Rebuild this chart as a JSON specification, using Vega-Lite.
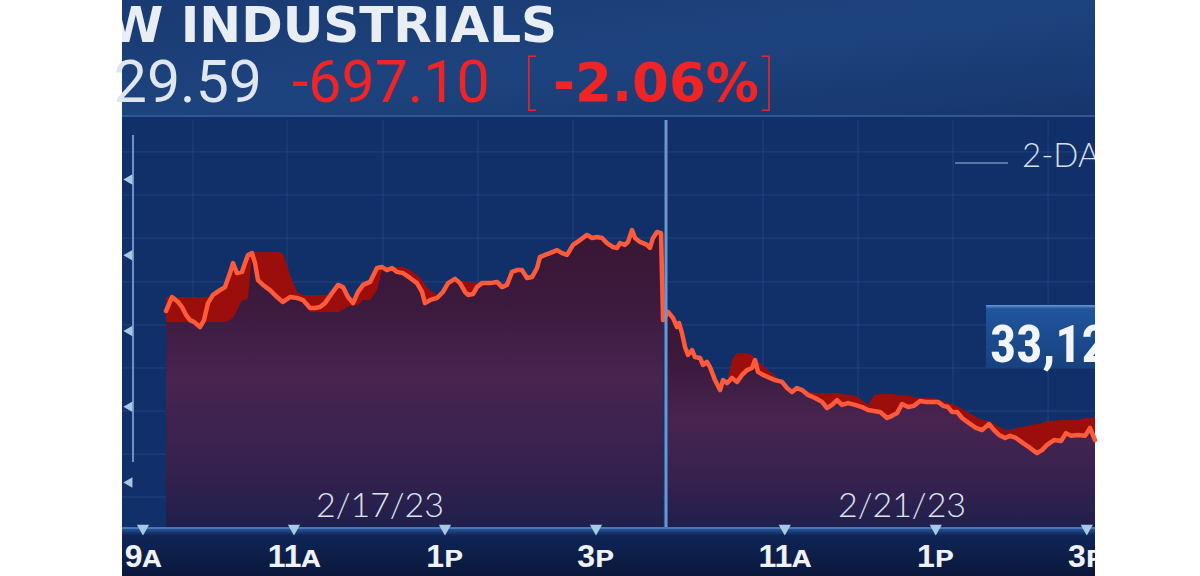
{
"$schema": "https://vega.github.io/schema/vega-lite/v6.json",
"width": 973, "height": 576,
"autosize": {"type": "none"},
"padding": {"left": 122, "right": 105, "top": 0, "bottom": 0},
"background": "#ffffff",
"view": {"fill": "#11306a", "stroke": null},
"config": {"axis": {"disable": true}},
"datasets": {
"one": [{}],
"series": [
{"day":"2/17/23","t":9.305,"v":33566,"hi":33612,"lo":33530},
{"day":"2/17/23","t":9.384,"v":33612,"hi":33612,"lo":33530},
{"day":"2/17/23","t":9.464,"v":33596,"hi":33612,"lo":33530},
{"day":"2/17/23","t":9.517,"v":33579,"hi":33612,"lo":33530},
{"day":"2/17/23","t":9.570,"v":33553,"hi":33612,"lo":33530},
{"day":"2/17/23","t":9.623,"v":33536,"hi":33612,"lo":33530},
{"day":"2/17/23","t":9.676,"v":33530,"hi":33612,"lo":33530},
{"day":"2/17/23","t":9.755,"v":33513,"hi":33612,"lo":33513},
{"day":"2/17/23","t":9.808,"v":33536,"hi":33612,"lo":33530},
{"day":"2/17/23","t":9.861,"v":33592,"hi":33612,"lo":33530},
{"day":"2/17/23","t":9.927,"v":33619,"hi":33619,"lo":33530},
{"day":"2/17/23","t":10.020,"v":33635,"hi":33635,"lo":33530},
{"day":"2/17/23","t":10.086,"v":33645,"hi":33645,"lo":33530},
{"day":"2/17/23","t":10.152,"v":33691,"hi":33691,"lo":33536},
{"day":"2/17/23","t":10.192,"v":33724,"hi":33724,"lo":33543},
{"day":"2/17/23","t":10.245,"v":33691,"hi":33691,"lo":33569},
{"day":"2/17/23","t":10.311,"v":33695,"hi":33695,"lo":33602},
{"day":"2/17/23","t":10.351,"v":33724,"hi":33724,"lo":33602},
{"day":"2/17/23","t":10.391,"v":33751,"hi":33751,"lo":33609},
{"day":"2/17/23","t":10.444,"v":33757,"hi":33761,"lo":33757},
{"day":"2/17/23","t":10.484,"v":33724,"hi":33761,"lo":33724},
{"day":"2/17/23","t":10.523,"v":33668,"hi":33761,"lo":33668},
{"day":"2/17/23","t":10.590,"v":33652,"hi":33761,"lo":33652},
{"day":"2/17/23","t":10.682,"v":33635,"hi":33761,"lo":33635},
{"day":"2/17/23","t":10.775,"v":33612,"hi":33761,"lo":33612},
{"day":"2/17/23","t":10.854,"v":33596,"hi":33757,"lo":33596},
{"day":"2/17/23","t":10.947,"v":33612,"hi":33685,"lo":33612},
{"day":"2/17/23","t":11.040,"v":33609,"hi":33629,"lo":33609},
{"day":"2/17/23","t":11.119,"v":33602,"hi":33619,"lo":33602},
{"day":"2/17/23","t":11.212,"v":33576,"hi":33619,"lo":33563},
{"day":"2/17/23","t":11.278,"v":33576,"hi":33619,"lo":33563},
{"day":"2/17/23","t":11.345,"v":33579,"hi":33619,"lo":33563},
{"day":"2/17/23","t":11.411,"v":33592,"hi":33619,"lo":33563},
{"day":"2/17/23","t":11.503,"v":33625,"hi":33625,"lo":33563},
{"day":"2/17/23","t":11.583,"v":33652,"hi":33652,"lo":33563},
{"day":"2/17/23","t":11.649,"v":33645,"hi":33645,"lo":33569},
{"day":"2/17/23","t":11.715,"v":33612,"hi":33612,"lo":33583},
{"day":"2/17/23","t":11.782,"v":33592,"hi":33592,"lo":33583},
{"day":"2/17/23","t":11.848,"v":33629,"hi":33629,"lo":33586},
{"day":"2/17/23","t":11.914,"v":33652,"hi":33652,"lo":33602},
{"day":"2/17/23","t":12.007,"v":33662,"hi":33662,"lo":33602},
{"day":"2/17/23","t":12.099,"v":33708,"hi":33708,"lo":33635},
{"day":"2/17/23","t":12.166,"v":33711,"hi":33711,"lo":33701},
{"day":"2/17/23","t":12.232,"v":33701,"hi":33711,"lo":33701},
{"day":"2/17/23","t":12.298,"v":33708,"hi":33711,"lo":33708},
{"day":"2/17/23","t":12.364,"v":33695,"hi":33711,"lo":33695},
{"day":"2/17/23","t":12.444,"v":33691,"hi":33711,"lo":33691},
{"day":"2/17/23","t":12.537,"v":33675,"hi":33701,"lo":33675},
{"day":"2/17/23","t":12.629,"v":33658,"hi":33685,"lo":33658},
{"day":"2/17/23","t":12.696,"v":33629,"hi":33668,"lo":33629},
{"day":"2/17/23","t":12.735,"v":33592,"hi":33652,"lo":33592},
{"day":"2/17/23","t":12.801,"v":33602,"hi":33635,"lo":33602},
{"day":"2/17/23","t":12.894,"v":33609,"hi":33619,"lo":33609},
{"day":"2/17/23","t":12.974,"v":33629,"hi":33629,"lo":33629},
{"day":"2/17/23","t":13.040,"v":33658,"hi":33658,"lo":33658},
{"day":"2/17/23","t":13.133,"v":33672,"hi":33672,"lo":33672},
{"day":"2/17/23","t":13.199,"v":33658,"hi":33665,"lo":33658},
{"day":"2/17/23","t":13.265,"v":33629,"hi":33665,"lo":33629},
{"day":"2/17/23","t":13.305,"v":33619,"hi":33662,"lo":33619},
{"day":"2/17/23","t":13.371,"v":33622,"hi":33658,"lo":33622},
{"day":"2/17/23","t":13.424,"v":33645,"hi":33658,"lo":33645},
{"day":"2/17/23","t":13.490,"v":33658,"hi":33658,"lo":33658},
{"day":"2/17/23","t":13.596,"v":33658,"hi":33658,"lo":33658},
{"day":"2/17/23","t":13.689,"v":33662,"hi":33662,"lo":33662},
{"day":"2/17/23","t":13.755,"v":33645,"hi":33645,"lo":33645},
{"day":"2/17/23","t":13.821,"v":33652,"hi":33652,"lo":33652},
{"day":"2/17/23","t":13.888,"v":33695,"hi":33695,"lo":33695},
{"day":"2/17/23","t":13.954,"v":33701,"hi":33701,"lo":33701},
{"day":"2/17/23","t":14.020,"v":33701,"hi":33701,"lo":33701},
{"day":"2/17/23","t":14.086,"v":33675,"hi":33675,"lo":33675},
{"day":"2/17/23","t":14.153,"v":33678,"hi":33678,"lo":33678},
{"day":"2/17/23","t":14.219,"v":33708,"hi":33708,"lo":33708},
{"day":"2/17/23","t":14.258,"v":33744,"hi":33744,"lo":33744},
{"day":"2/17/23","t":14.325,"v":33751,"hi":33751,"lo":33751},
{"day":"2/17/23","t":14.391,"v":33757,"hi":33757,"lo":33757},
{"day":"2/17/23","t":14.484,"v":33767,"hi":33767,"lo":33767},
{"day":"2/17/23","t":14.550,"v":33757,"hi":33757,"lo":33757},
{"day":"2/17/23","t":14.616,"v":33751,"hi":33751,"lo":33751},
{"day":"2/17/23","t":14.696,"v":33784,"hi":33784,"lo":33784},
{"day":"2/17/23","t":14.788,"v":33800,"hi":33800,"lo":33800},
{"day":"2/17/23","t":14.881,"v":33817,"hi":33817,"lo":33817},
{"day":"2/17/23","t":14.947,"v":33807,"hi":33807,"lo":33807},
{"day":"2/17/23","t":15.013,"v":33810,"hi":33810,"lo":33810},
{"day":"2/17/23","t":15.080,"v":33807,"hi":33807,"lo":33807},
{"day":"2/17/23","t":15.146,"v":33790,"hi":33790,"lo":33790},
{"day":"2/17/23","t":15.225,"v":33777,"hi":33777,"lo":33777},
{"day":"2/17/23","t":15.278,"v":33774,"hi":33774,"lo":33774},
{"day":"2/17/23","t":15.318,"v":33790,"hi":33790,"lo":33790},
{"day":"2/17/23","t":15.384,"v":33784,"hi":33784,"lo":33784},
{"day":"2/17/23","t":15.424,"v":33794,"hi":33794,"lo":33794},
{"day":"2/17/23","t":15.477,"v":33833,"hi":33833,"lo":33833},
{"day":"2/17/23","t":15.517,"v":33807,"hi":33807,"lo":33807},
{"day":"2/17/23","t":15.583,"v":33794,"hi":33794,"lo":33794},
{"day":"2/17/23","t":15.676,"v":33784,"hi":33784,"lo":33784},
{"day":"2/17/23","t":15.715,"v":33774,"hi":33774,"lo":33774},
{"day":"2/17/23","t":15.755,"v":33807,"hi":33807,"lo":33807},
{"day":"2/17/23","t":15.808,"v":33827,"hi":33827,"lo":33827},
{"day":"2/17/23","t":15.861,"v":33823,"hi":33823,"lo":33823},
{"day":"2/17/23","t":15.888,"v":33536,"hi":33536,"lo":33536},
{"day":"2/21/23","t":15.954,"v":33563,"hi":33563,"lo":33563},
{"day":"2/21/23","t":16.020,"v":33543,"hi":33543,"lo":33543},
{"day":"2/21/23","t":16.073,"v":33513,"hi":33513,"lo":33513},
{"day":"2/21/23","t":16.100,"v":33526,"hi":33526,"lo":33526},
{"day":"2/21/23","t":16.139,"v":33493,"hi":33493,"lo":33493},
{"day":"2/21/23","t":16.179,"v":33447,"hi":33447,"lo":33447},
{"day":"2/21/23","t":16.219,"v":33421,"hi":33421,"lo":33421},
{"day":"2/21/23","t":16.272,"v":33437,"hi":33437,"lo":33437},
{"day":"2/21/23","t":16.311,"v":33414,"hi":33414,"lo":33414},
{"day":"2/21/23","t":16.378,"v":33411,"hi":33411,"lo":33411},
{"day":"2/21/23","t":16.417,"v":33388,"hi":33388,"lo":33388},
{"day":"2/21/23","t":16.470,"v":33398,"hi":33398,"lo":33398},
{"day":"2/21/23","t":16.510,"v":33381,"hi":33381,"lo":33381},
{"day":"2/21/23","t":16.576,"v":33338,"hi":33338,"lo":33338},
{"day":"2/21/23","t":16.643,"v":33305,"hi":33305,"lo":33305},
{"day":"2/21/23","t":16.682,"v":33338,"hi":33338,"lo":33338},
{"day":"2/21/23","t":16.735,"v":33328,"hi":33328,"lo":33328},
{"day":"2/21/23","t":16.801,"v":33345,"hi":33404,"lo":33345},
{"day":"2/21/23","t":16.868,"v":33332,"hi":33427,"lo":33332},
{"day":"2/21/23","t":16.934,"v":33355,"hi":33427,"lo":33355},
{"day":"2/21/23","t":17.000,"v":33371,"hi":33427,"lo":33371},
{"day":"2/21/23","t":17.066,"v":33378,"hi":33421,"lo":33378},
{"day":"2/21/23","t":17.106,"v":33404,"hi":33411,"lo":33404},
{"day":"2/21/23","t":17.146,"v":33365,"hi":33398,"lo":33365},
{"day":"2/21/23","t":17.212,"v":33355,"hi":33385,"lo":33355},
{"day":"2/21/23","t":17.305,"v":33345,"hi":33365,"lo":33345},
{"day":"2/21/23","t":17.371,"v":33338,"hi":33352,"lo":33338},
{"day":"2/21/23","t":17.464,"v":33332,"hi":33332,"lo":33332},
{"day":"2/21/23","t":17.530,"v":33312,"hi":33312,"lo":33312},
{"day":"2/21/23","t":17.596,"v":33299,"hi":33299,"lo":33299},
{"day":"2/21/23","t":17.662,"v":33312,"hi":33312,"lo":33312},
{"day":"2/21/23","t":17.729,"v":33305,"hi":33305,"lo":33305},
{"day":"2/21/23","t":17.808,"v":33289,"hi":33299,"lo":33289},
{"day":"2/21/23","t":17.901,"v":33279,"hi":33295,"lo":33279},
{"day":"2/21/23","t":17.994,"v":33266,"hi":33295,"lo":33266},
{"day":"2/21/23","t":18.060,"v":33246,"hi":33295,"lo":33246},
{"day":"2/21/23","t":18.126,"v":33256,"hi":33295,"lo":33256},
{"day":"2/21/23","t":18.192,"v":33272,"hi":33295,"lo":33272},
{"day":"2/21/23","t":18.258,"v":33256,"hi":33292,"lo":33256},
{"day":"2/21/23","t":18.338,"v":33262,"hi":33289,"lo":33262},
{"day":"2/21/23","t":18.431,"v":33256,"hi":33286,"lo":33256},
{"day":"2/21/23","t":18.523,"v":33249,"hi":33272,"lo":33249},
{"day":"2/21/23","t":18.603,"v":33239,"hi":33256,"lo":33239},
{"day":"2/21/23","t":18.682,"v":33236,"hi":33289,"lo":33236},
{"day":"2/21/23","t":18.762,"v":33233,"hi":33292,"lo":33233},
{"day":"2/21/23","t":18.855,"v":33213,"hi":33292,"lo":33213},
{"day":"2/21/23","t":18.921,"v":33220,"hi":33292,"lo":33220},
{"day":"2/21/23","t":18.987,"v":33229,"hi":33289,"lo":33229},
{"day":"2/21/23","t":19.053,"v":33259,"hi":33289,"lo":33259},
{"day":"2/21/23","t":19.133,"v":33249,"hi":33286,"lo":33249},
{"day":"2/21/23","t":19.212,"v":33253,"hi":33282,"lo":33253},
{"day":"2/21/23","t":19.292,"v":33269,"hi":33279,"lo":33269},
{"day":"2/21/23","t":19.371,"v":33266,"hi":33279,"lo":33266},
{"day":"2/21/23","t":19.464,"v":33266,"hi":33279,"lo":33266},
{"day":"2/21/23","t":19.530,"v":33266,"hi":33276,"lo":33266},
{"day":"2/21/23","t":19.596,"v":33253,"hi":33269,"lo":33253},
{"day":"2/21/23","t":19.662,"v":33249,"hi":33262,"lo":33249},
{"day":"2/21/23","t":19.715,"v":33233,"hi":33259,"lo":33233},
{"day":"2/21/23","t":19.782,"v":33233,"hi":33253,"lo":33233},
{"day":"2/21/23","t":19.848,"v":33213,"hi":33243,"lo":33213},
{"day":"2/21/23","t":19.941,"v":33196,"hi":33229,"lo":33196},
{"day":"2/21/23","t":20.033,"v":33180,"hi":33216,"lo":33180},
{"day":"2/21/23","t":20.113,"v":33173,"hi":33206,"lo":33173},
{"day":"2/21/23","t":20.205,"v":33193,"hi":33203,"lo":33193},
{"day":"2/21/23","t":20.272,"v":33173,"hi":33193,"lo":33173},
{"day":"2/21/23","t":20.338,"v":33157,"hi":33183,"lo":33157},
{"day":"2/21/23","t":20.417,"v":33147,"hi":33173,"lo":33147},
{"day":"2/21/23","t":20.484,"v":33154,"hi":33173,"lo":33154},
{"day":"2/21/23","t":20.563,"v":33147,"hi":33180,"lo":33147},
{"day":"2/21/23","t":20.656,"v":33130,"hi":33183,"lo":33130},
{"day":"2/21/23","t":20.749,"v":33114,"hi":33190,"lo":33114},
{"day":"2/21/23","t":20.841,"v":33097,"hi":33193,"lo":33097},
{"day":"2/21/23","t":20.907,"v":33107,"hi":33196,"lo":33107},
{"day":"2/21/23","t":20.974,"v":33124,"hi":33203,"lo":33124},
{"day":"2/21/23","t":21.066,"v":33140,"hi":33203,"lo":33140},
{"day":"2/21/23","t":21.159,"v":33137,"hi":33206,"lo":33137},
{"day":"2/21/23","t":21.225,"v":33163,"hi":33206,"lo":33163},
{"day":"2/21/23","t":21.292,"v":33154,"hi":33206,"lo":33154},
{"day":"2/21/23","t":21.384,"v":33157,"hi":33206,"lo":33157},
{"day":"2/21/23","t":21.477,"v":33154,"hi":33213,"lo":33154},
{"day":"2/21/23","t":21.543,"v":33180,"hi":33213,"lo":33180},
{"day":"2/21/23","t":21.609,"v":33140,"hi":33216,"lo":33140}
],
"hgrid": [{"v":34091},{"v":33949},{"v":33807},{"v":33662},{"v":33520},{"v":33378},{"v":33236},{"v":33094},{"v":32952}],
"vgrid": [{"t":9.662},{"t":10.907},{"t":12.179},{"t":13.437},{"t":14.696},{"t":17.212},{"t":18.470},{"t":19.729},{"t":20.987}],
"xticks": [
{"t":9,"label":"9ᴀ"},{"t":11,"label":"11ᴀ"},{"t":13,"label":"1ᴘ"},{"t":15,"label":"3ᴘ"},
{"t":17.5,"label":"11ᴀ"},{"t":19.5,"label":"1ᴘ"},{"t":21.5,"label":"3ᴘ"}
],
"yticks": [{"v":34000},{"v":33750},{"v":33500},{"v":33250},{"v":33000}],
"dates": [{"t":12.139,"label":"2/17/23"},{"t":19.053,"label":"2/21/23"}]
},
"layer": [
{
"data": {"name": "one"},
"mark": {"type": "rect", "color": {"gradient": "linear", "x1": 0, "y1": 0, "x2": 1, "y2": 1, "stops": [{"offset": 0, "color": "#1a3a72"}, {"offset": 0.5, "color": "#1d437e"}, {"offset": 1, "color": "#16356c"}]}},
"encoding": {
"x": {"datum": 8.722, "type": "quantitative", "scale": {"domain": [8.722, 21.609], "nice": false, "zero": false}},
"x2": {"datum": 21.609},
"y": {"datum": 34592.3, "type": "quantitative", "scale": {"domain": [32691.5, 34592.3], "nice": false, "zero": false}},
"y2": {"datum": 34209.5}
}
},
{
"data": {"name": "one"},
"mark": {"type": "rule", "color": "#2f5892", "strokeWidth": 2},
"encoding": {"x": {"datum": 8.722, "type": "quantitative"}, "x2": {"datum": 21.609}, "y": {"datum": 34209.5, "type": "quantitative"}}
},
{
"data": {"name": "hgrid"},
"mark": {"type": "rule", "color": "#29498a", "strokeWidth": 1, "opacity": 0.7},
"encoding": {"x": {"datum": 8.722, "type": "quantitative"}, "x2": {"datum": 21.609}, "y": {"field": "v", "type": "quantitative"}}
},
{
"data": {"name": "vgrid"},
"mark": {"type": "rule", "color": "#29498a", "strokeWidth": 1, "opacity": 0.7},
"encoding": {"x": {"field": "t", "type": "quantitative"}, "y": {"datum": 34196, "type": "quantitative"}, "y2": {"datum": 32850}}
},
{
"data": {"name": "one"},
"mark": {"type": "rect", "color": {"gradient": "linear", "x1": 0, "y1": 0, "x2": 0, "y2": 1, "stops": [{"offset": 0, "color": "#2a5a9c"}, {"offset": 0.15, "color": "#0f2558"}, {"offset": 1, "color": "#0a173a"}]}},
"encoding": {"x": {"datum": 8.722, "type": "quantitative"}, "x2": {"datum": 21.609}, "y": {"datum": 32850, "type": "quantitative"}, "y2": {"datum": 32691.5}}
},
{
"data": {"name": "series"},
"mark": {"type": "area", "color": {"gradient": "linear", "x1": 0, "y1": 0, "x2": 0, "y2": 1, "stops": [{"offset": 0, "color": "#3a1633"}, {"offset": 0.25, "color": "#3c1a3e"}, {"offset": 0.5, "color": "#48244f"}, {"offset": 0.8, "color": "#35214f"}, {"offset": 1, "color": "#1f1f4c"}]}},
"encoding": {
"x": {"field": "t", "type": "quantitative"},
"y": {"field": "v", "type": "quantitative"},
"y2": {"datum": 32850},
"detail": {"field": "day"}
}
},
{
"data": {"name": "series"},
"mark": {"type": "area", "color": "#9c0e0b"},
"encoding": {
"x": {"field": "t", "type": "quantitative"},
"y": {"field": "hi", "type": "quantitative"},
"y2": {"field": "lo"},
"detail": {"field": "day"}
}
},
{
"data": {"name": "series"},
"mark": {"type": "line", "color": "#ff5a3a", "strokeWidth": 4.5, "strokeJoin": "round", "strokeCap": "round"},
"encoding": {
"x": {"field": "t", "type": "quantitative"},
"y": {"field": "v", "type": "quantitative"}
}
},
{
"data": {"name": "one"},
"mark": {"type": "rule", "color": "#6f96ca", "strokeWidth": 3},
"encoding": {"x": {"datum": 15.927, "type": "quantitative"}, "y": {"datum": 34196, "type": "quantitative"}, "y2": {"datum": 32850}}
},
{
"data": {"name": "one"},
"mark": {"type": "rule", "color": "#4677b8", "strokeWidth": 2},
"encoding": {"x": {"datum": 8.722, "type": "quantitative"}, "x2": {"datum": 21.609}, "y": {"datum": 32850, "type": "quantitative"}}
},
{
"data": {"name": "one"},
"mark": {"type": "rule", "color": "#6d93c6", "strokeWidth": 2},
"encoding": {"x": {"datum": 8.868, "type": "quantitative"}, "y": {"datum": 34147, "type": "quantitative"}, "y2": {"datum": 33068}}
},
{
"data": {"name": "yticks"},
"mark": {"type": "point", "shape": "triangle-left", "filled": true, "size": 110, "color": "#a9c6e4", "opacity": 1},
"encoding": {"x": {"datum": 8.80, "type": "quantitative"}, "y": {"field": "v", "type": "quantitative"}}
},
{
"data": {"name": "xticks"},
"mark": {"type": "point", "shape": "triangle-down", "filled": true, "size": 150, "color": "#a9c8e6", "opacity": 1},
"encoding": {"x": {"field": "t", "type": "quantitative"}, "y": {"datum": 32843, "type": "quantitative"}}
},
{
"data": {"name": "xticks"},
"mark": {"type": "text", "font": "Liberation Sans, DejaVu Sans, sans-serif", "fontWeight": "bold", "fontSize": 32, "color": "#eef2f6", "align": "center", "baseline": "alphabetic", "clip": true},
"encoding": {"x": {"field": "t", "type": "quantitative"}, "y": {"datum": 32721, "type": "quantitative"}, "text": {"field": "label"}}
},
{
"data": {"name": "dates"},
"mark": {"type": "text", "font": "Lato", "fontWeight": 300, "fontSize": 34, "color": "#dde4ec", "align": "center", "baseline": "middle"},
"encoding": {"x": {"field": "t", "type": "quantitative"}, "y": {"datum": 32919, "type": "quantitative"}, "text": {"field": "label"}}
},
{
"data": {"name": "one"},
"mark": {"type": "text", "text": "W INDUSTRIALS", "font": "DejaVu Sans", "fontWeight": "bold", "fontSize": 50, "color": "#e9eef4", "align": "right", "baseline": "alphabetic", "clip": true},
"encoding": {"x": {"datum": 14.484, "type": "quantitative"}, "y": {"datum": 34454, "type": "quantitative"}}
},
{
"data": {"name": "one"},
"mark": {"type": "text", "text": "29.59", "font": "Roboto", "fontSize": 59, "color": "#dfe6ee", "align": "right", "baseline": "alphabetic"},
"encoding": {"x": {"datum": 10.576, "type": "quantitative"}, "y": {"datum": 34256, "type": "quantitative"}}
},
{
"data": {"name": "one"},
"mark": {"type": "text", "text": "-697.10", "font": "Roboto", "fontSize": 59, "color": "#f02424", "align": "left", "baseline": "alphabetic"},
"encoding": {"x": {"datum": 10.974, "type": "quantitative"}, "y": {"datum": 34256, "type": "quantitative"}}
},
{
"data": {"name": "one"},
"mark": {"type": "text", "text": "[", "font": "Roboto", "fontWeight": 100, "fontSize": 58, "color": "#f02424", "align": "left", "baseline": "alphabetic"},
"encoding": {"x": {"datum": 14.033, "type": "quantitative"}, "y": {"datum": 34256, "type": "quantitative"}}
},
{
"data": {"name": "one"},
"mark": {"type": "text", "text": "-2.06%", "font": "DejaVu Sans", "fontWeight": "bold", "fontSize": 53, "color": "#f02424", "align": "left", "baseline": "alphabetic"},
"encoding": {"x": {"datum": 14.431, "type": "quantitative"}, "y": {"datum": 34259, "type": "quantitative"}}
},
{
"data": {"name": "one"},
"mark": {"type": "text", "text": "]", "font": "Roboto", "fontWeight": 100, "fontSize": 58, "color": "#f02424", "align": "left", "baseline": "alphabetic"},
"encoding": {"x": {"datum": 17.199, "type": "quantitative"}, "y": {"datum": 34256, "type": "quantitative"}}
},
{
"data": {"name": "one"},
"mark": {"type": "rule", "color": "#6f8db8", "strokeWidth": 1.5},
"encoding": {"x": {"datum": 19.755, "type": "quantitative"}, "x2": {"datum": 20.457}, "y": {"datum": 34054, "type": "quantitative"}}
},
{
"data": {"name": "one"},
"mark": {"type": "text", "text": "2-DAY", "font": "Lato", "fontWeight": 300, "fontSize": 33, "color": "#d7dfe9", "align": "left", "baseline": "alphabetic", "clip": true},
"encoding": {"x": {"datum": 20.642, "type": "quantitative"}, "y": {"datum": 34041, "type": "quantitative"}}
},
{
"data": {"name": "one"},
"mark": {"type": "rect", "color": {"gradient": "linear", "x1": 0, "y1": 0, "x2": 0, "y2": 1, "stops": [{"offset": 0, "color": "#6a9ad6"}, {"offset": 0.06, "color": "#21559c"}, {"offset": 1, "color": "#17417f"}]}},
"encoding": {"x": {"datum": 20.166, "type": "quantitative"}, "x2": {"datum": 21.609}, "y": {"datum": 33586, "type": "quantitative"}, "y2": {"datum": 33378}}
},
{
"data": {"name": "one"},
"mark": {"type": "text", "text": "33,129.59", "font": "Liberation Sans Narrow, Roboto Condensed, Roboto, sans-serif", "fontWeight": "bold", "fontSize": 52, "color": "#f2f5f8", "align": "left", "baseline": "alphabetic", "clip": true},
"encoding": {"x": {"datum": 20.219, "type": "quantitative"}, "y": {"datum": 33398, "type": "quantitative"}}
}
]
}
